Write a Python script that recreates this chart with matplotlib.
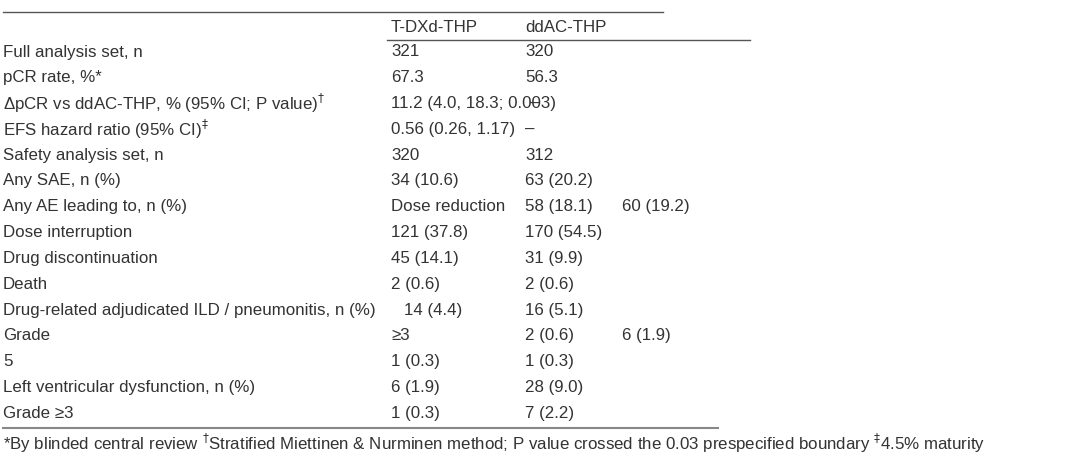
import matplotlib.pyplot as plt

plt.rcParams['font.family'] = ['Liberation Sans', 'DejaVu Sans']

header = ['', 'T-DXd-THP', 'ddAC-THP']
labels = ['Full analysis set, n', 'pCR rate, %*',
          'ΔpCR vs ddAC-THP, % (95% CI; P value)$^{\\dagger}$',
          'EFS hazard ratio (95% CI)$^{\\ddagger}$',
          'Safety analysis set, n', 'Any SAE, n (%)',
          'Any AE leading to, n (%)', 'Dose interruption',
          'Drug discontinuation', 'Death',
          'Drug-related adjudicated ILD / pneumonitis, n (%)',
          'Grade', '5', 'Left ventricular dysfunction, n (%)', 'Grade ≥3']
col1 = ['321', '67.3', '11.2 (4.0, 18.3; 0.003)', '0.56 (0.26, 1.17)', '320',
        '34 (10.6)', 'Dose reduction', '121 (37.8)', '45 (14.1)', '2 (0.6)',
        '14 (4.4)', '≥3', '1 (0.3)', '6 (1.9)', '1 (0.3)']
col2 = ['320', '56.3', '–', '–', '312', '63 (20.2)', '58 (18.1)', '170 (54.5)',
        '31 (9.9)', '2 (0.6)', '16 (5.1)', '2 (0.6)', '1 (0.3)', '28 (9.0)', '7 (2.2)']
col3 = ['', '', '', '', '', '', '60 (19.2)', '', '', '', '', '6 (1.9)', '', '', '']
footnote = ('*By blinded central review $^{\\dagger}$Stratified Miettinen & Nurminen method; '
            'P value crossed the 0.03 prespecified boundary $^{\\ddagger}$4.5% maturity')

W, H = 1080, 462
fig = plt.figure(figsize=(10.8, 4.62), dpi=100)
ax = fig.add_axes([0, 0, 1, 1])
ax.set_xlim(0, W)
ax.set_ylim(H, 0)
ax.axis('off')

c = '#333333'
fs = 12.2
xs = [3, 391, 525, 622]

ax.plot([3, 663], [12, 12], color='#555555', lw=1)
ax.plot([387, 750], [40, 40], color='#555555', lw=1)
ax.plot([3, 718], [428, 428], color='#888888', lw=1.5)

ax.text(xs[1], 27, header[1], fontsize=fs, color=c, va='center')
ax.text(xs[2], 27, header[2], fontsize=fs, color=c, va='center')

y0, step = 52, 25.8
for i in range(len(labels)):
    y = y0 + i * step
    ax.text(xs[0], y, labels[i], fontsize=fs, color=c, va='center')
    # the ILD label runs straight into its value, as in the source
    t = ax.text(xs[1], y, col1[i], fontsize=fs, color=c, va='center')
    if i == 10:
        t.set_x(404)
    x2 = xs[2] if i != 2 else 530
    ax.text(x2, y, col2[i], fontsize=fs, color=c, va='center')
    if col3[i]:
        ax.text(xs[3], y, col3[i], fontsize=fs, color=c, va='center')

ax.text(xs[0], 443, footnote, fontsize=fs, color=c, va='center')

fig.savefig('out.png', dpi=100)
